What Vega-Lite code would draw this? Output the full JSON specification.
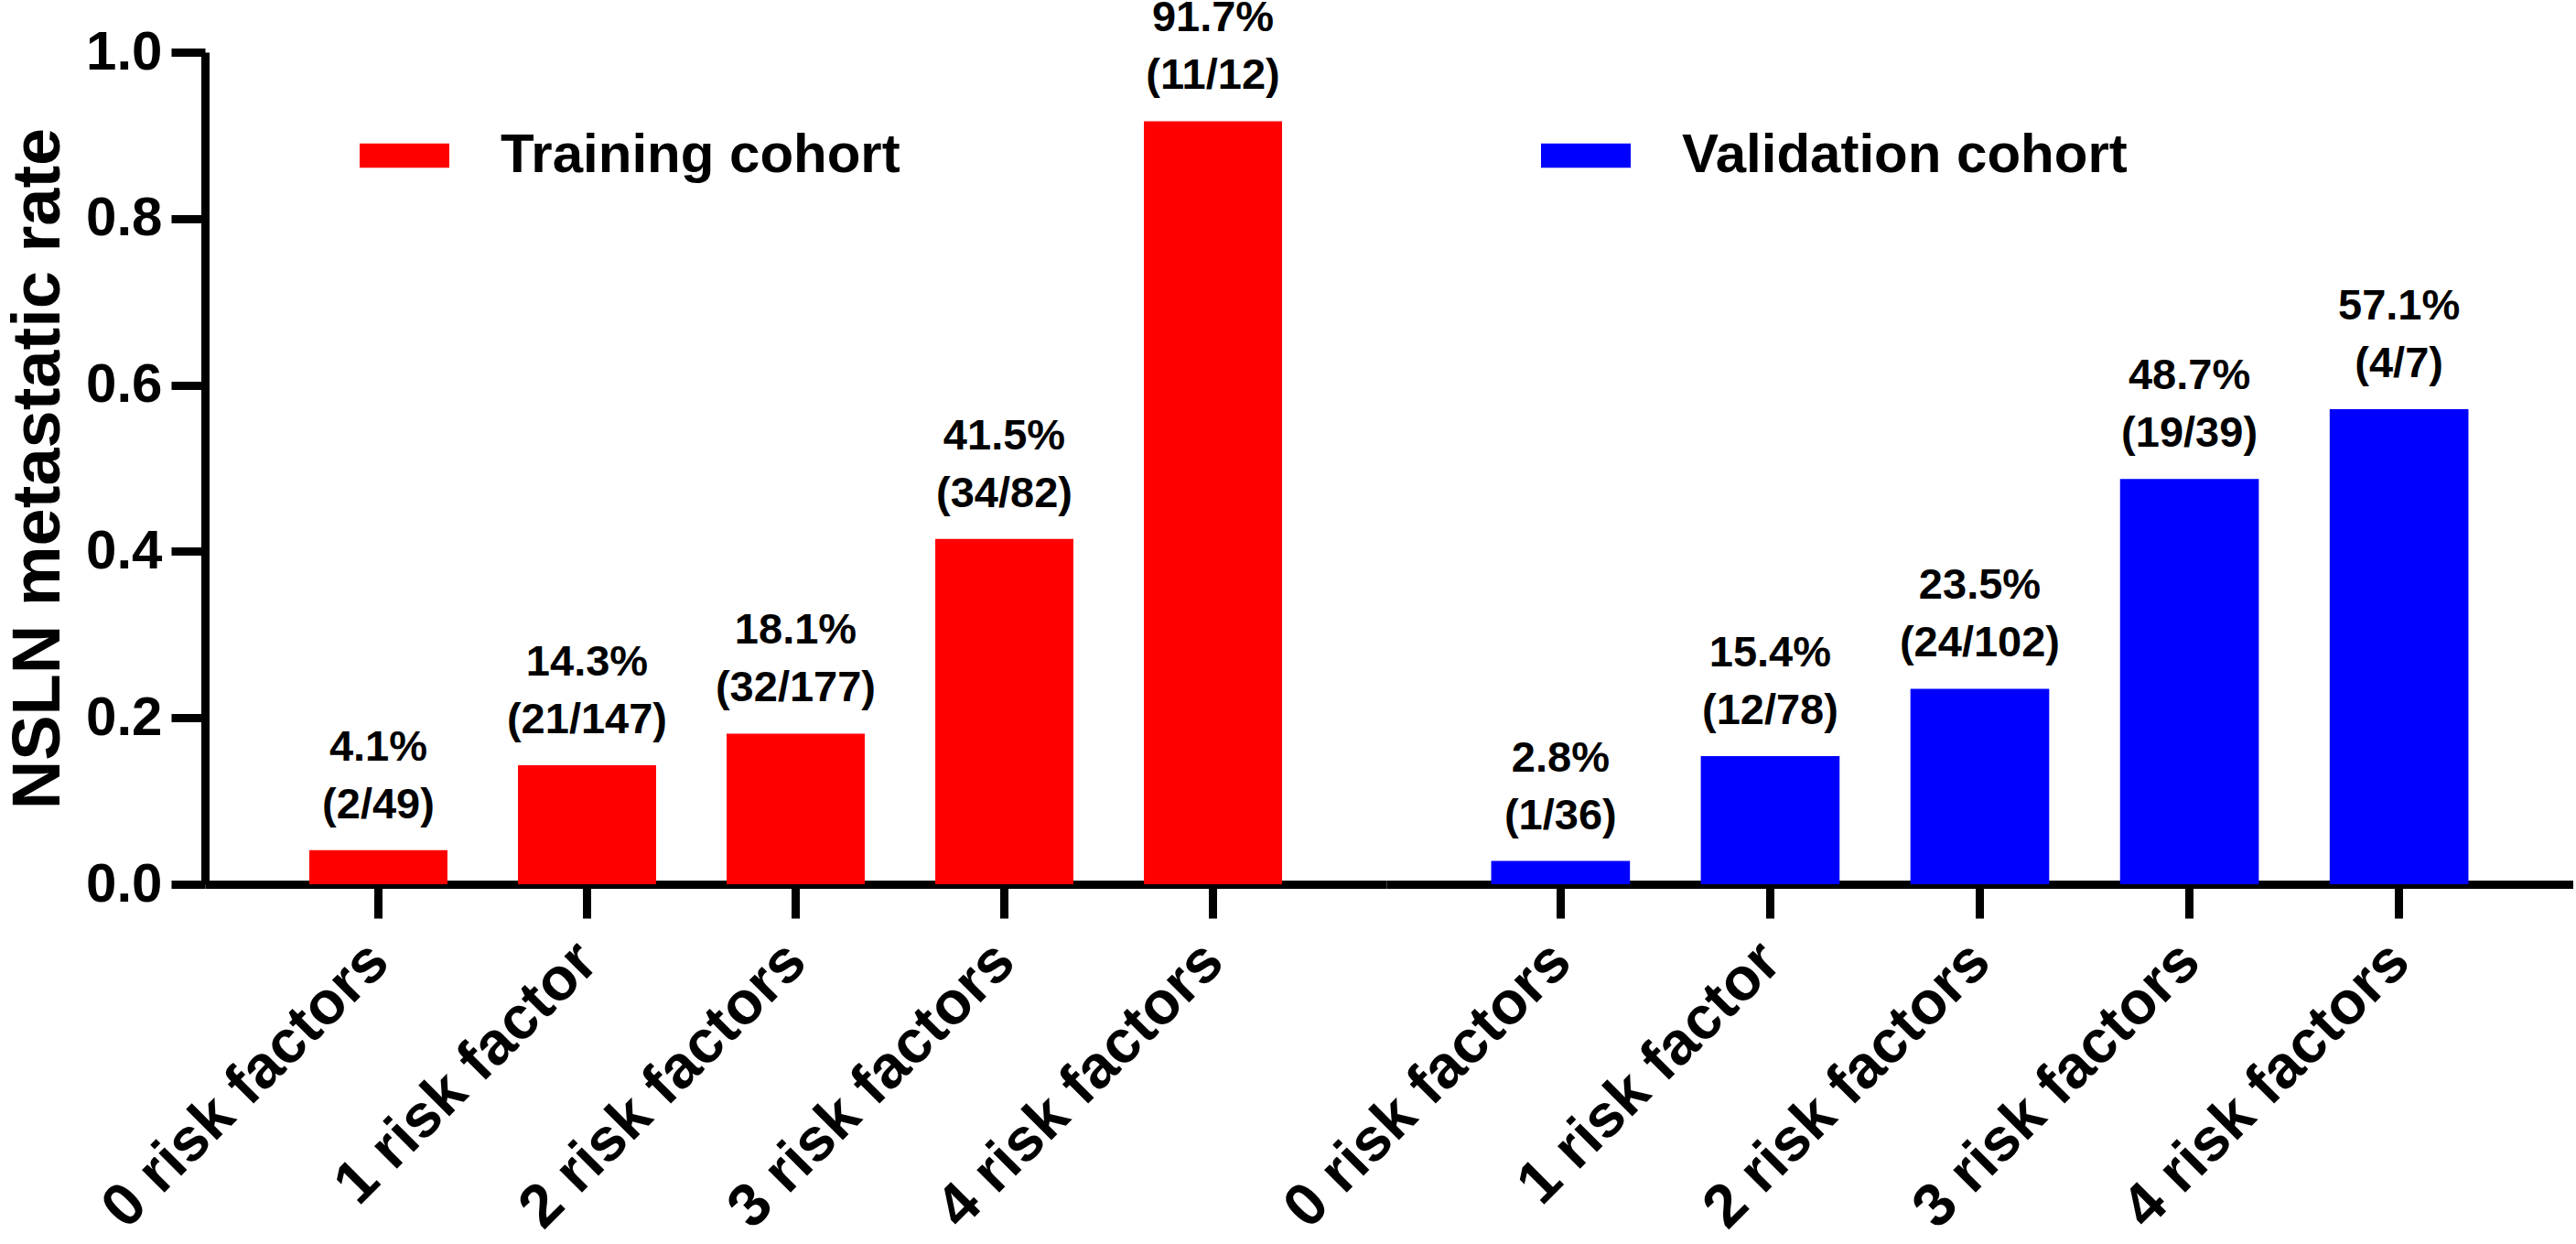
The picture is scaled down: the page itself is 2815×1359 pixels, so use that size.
{
  "$schema": "https://vega.github.io/schema/vega-lite/v6.json",
  "background": "white",
  "padding": {"left": 5, "top": -4, "right": 0, "bottom": 0},
  "spacing": 0,
  "bounds": "flush",
  "data": {
    "values": [
      {"cohort": "Training cohort", "factors": "0 risk factors", "rate": 0.041, "label": "4.1%\n(2/49)"},
      {"cohort": "Training cohort", "factors": "1 risk factor", "rate": 0.143, "label": "14.3%\n(21/147)"},
      {"cohort": "Training cohort", "factors": "2 risk factors", "rate": 0.181, "label": "18.1%\n(32/177)"},
      {"cohort": "Training cohort", "factors": "3 risk factors", "rate": 0.415, "label": "41.5%\n(34/82)"},
      {"cohort": "Training cohort", "factors": "4 risk factors", "rate": 0.917, "label": "91.7%\n(11/12)"},
      {"cohort": "Validation cohort", "factors": "0 risk factors", "rate": 0.028, "label": "2.8%\n(1/36)"},
      {"cohort": "Validation cohort", "factors": "1 risk factor", "rate": 0.154, "label": "15.4%\n(12/78)"},
      {"cohort": "Validation cohort", "factors": "2 risk factors", "rate": 0.235, "label": "23.5%\n(24/102)"},
      {"cohort": "Validation cohort", "factors": "3 risk factors", "rate": 0.487, "label": "48.7%\n(19/39)"},
      {"cohort": "Validation cohort", "factors": "4 risk factors", "rate": 0.571, "label": "57.1%\n(4/7)"}
    ]
  },
  "hconcat": [
    {
      "width": 1291,
      "height": 909,
      "transform": [{"filter": "datum.cohort === 'Training cohort'"}],
      "encoding": {
        "x": {
          "field": "factors",
          "type": "nominal",
          "sort": null,
          "scale": {"paddingInner": 0.338, "paddingOuter": 0.5},
          "axis": {"title": null}
        },
        "y": {
          "field": "rate",
          "type": "quantitative",
          "scale": {"domain": [0, 1]},
          "axis": {"title": "NSLN metastatic rate", "values": [0, 0.2, 0.4, 0.6, 0.8, 1], "format": ".1f"}
        }
      },
      "layer": [
        {
          "mark": {"type": "bar"},
          "encoding": {
            "color": {
              "field": "cohort",
              "type": "nominal",
              "scale": {"domain": ["Training cohort", "Validation cohort"], "range": ["#ff0000", "#0000ff"]},
              "legend": {
                "orient": "none",
                "legendX": 169,
                "legendY": 64,
                "direction": "horizontal",
                "title": null,
                "symbolType": "M-1,-0.27L1,-0.27L1,0.27L-1,0.27Z",
                "symbolSize": 9604,
                "symbolStrokeWidth": 0,
                "symbolOpacity": 1,
                "labelFont": "Liberation Sans",
                "labelFontSize": 60,
                "labelFontWeight": "bold",
                "labelColor": "black",
                "labelOffset": 56,
                "labelLimit": 0,
                "columnPadding": 700
              }
            }
          }
        },
        {
          "mark": {"type": "text", "baseline": "bottom", "dy": -88, "fontSize": 47, "fontWeight": "bold", "font": "Liberation Sans", "lineBreak": "\n", "lineHeight": 63, "color": "black"},
          "encoding": {"text": {"field": "label", "type": "nominal"}}
        }
      ]
    },
    {
      "width": 1297,
      "height": 909,
      "transform": [{"filter": "datum.cohort === 'Validation cohort'"}],
      "encoding": {
        "x": {
          "field": "factors",
          "type": "nominal",
          "sort": null,
          "scale": {"paddingInner": 0.338, "paddingOuter": 0.5},
          "axis": {"title": null}
        },
        "y": {
          "field": "rate",
          "type": "quantitative",
          "scale": {"domain": [0, 1]},
          "axis": null
        }
      },
      "layer": [
        {
          "mark": {"type": "bar"},
          "encoding": {
            "color": {
              "field": "cohort",
              "type": "nominal",
              "scale": {"domain": ["Training cohort", "Validation cohort"], "range": ["#ff0000", "#0000ff"]}
            }
          }
        },
        {
          "mark": {"type": "text", "baseline": "bottom", "dy": -88, "fontSize": 47, "fontWeight": "bold", "font": "Liberation Sans", "lineBreak": "\n", "lineHeight": 63, "color": "black"},
          "encoding": {"text": {"field": "label", "type": "nominal"}}
        }
      ]
    }
  ],
  "resolve": {"scale": {"color": "shared"}, "legend": {"color": "shared"}},
  "config": {
    "font": "Liberation Sans",
    "view": {"stroke": null},
    "concat": {"spacing": 0},
    "axis": {
      "grid": false,
      "domainColor": "black",
      "domainWidth": 9,
      "tickColor": "black",
      "tickWidth": 9,
      "tickSize": 37,
      "labelFont": "Liberation Sans",
      "labelFontWeight": "bold",
      "labelColor": "black",
      "labelLimit": 0,
      "titleFont": "Liberation Sans",
      "titleFontWeight": "bold",
      "titleColor": "black"
    },
    "axisX": {"labelFontSize": 66, "labelAngle": -45, "labelPadding": 14, "labelOffset": -22},
    "axisY": {"labelFontSize": 60, "labelPadding": 10, "titleFontSize": 74, "titlePadding": 13}
  }
}
